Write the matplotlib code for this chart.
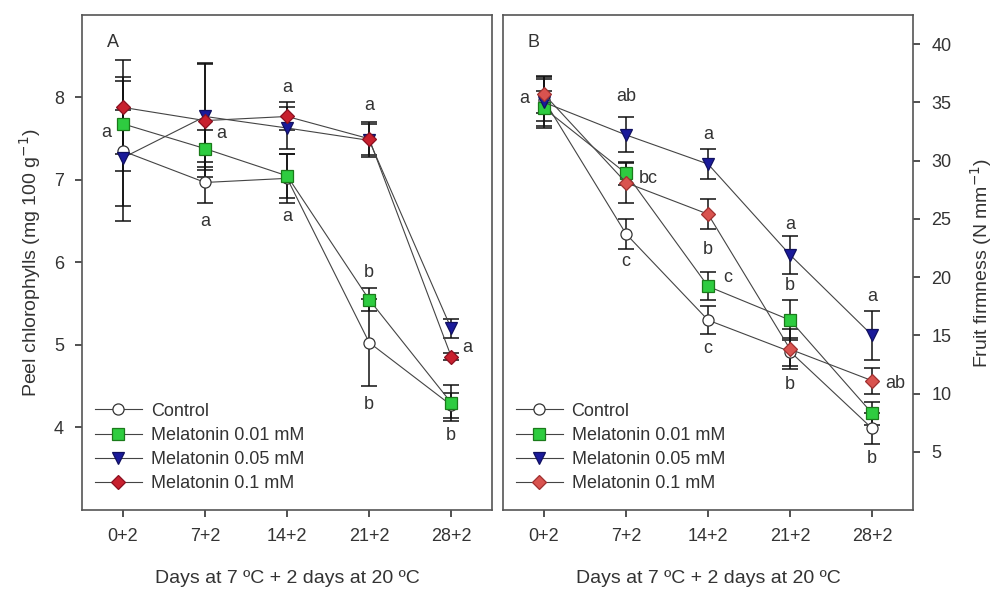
import numpy as np
import matplotlib
matplotlib.use('Agg')
import matplotlib.pyplot as plt

plt.rcParams['font.family'] = ['Liberation Sans', 'DejaVu Sans']

# x categories
days = ['0+2', '7+2', '14+2', '21+2', '28+2']
series = ['Control', 'Melatonin 0.01 mM', 'Melatonin 0.05 mM', 'Melatonin 0.1 mM']

# A - peel chlorophylls (mg 100 g-1)
chl_control = [7.35, 6.97, 7.02, 5.03, 4.27]
chl_control_se = [0.85, 0.25, 0.30, 0.53, 0.15]
chl_m001 = [7.68, 7.38, 7.05, 5.55, 4.30]
chl_m001_se = [0.57, 0.22, 0.27, 0.14, 0.22]
chl_m005 = [7.27, 7.77, 7.63, 7.48, 5.20]
chl_m005_se = [0.58, 0.65, 0.25, 0.20, 0.12]
chl_m01 = [7.88, 7.72, 7.77, 7.50, 4.86]
chl_m01_se = [0.57, 0.68, 0.17, 0.20, 0.04]

# B - fruit firmness (N mm-1)
firm_control = [35.2, 23.7, 16.3, 13.6, 7.0]
firm_control_se = [1.8, 1.3, 1.2, 1.2, 1.3]
firm_m001 = [34.5, 28.9, 19.2, 16.3, 8.3]
firm_m001_se = [1.5, 1.0, 1.2, 1.7, 1.0]
firm_m005 = [35.0, 32.2, 29.7, 21.9, 15.0]
firm_m005_se = [2.2, 1.5, 1.3, 1.6, 2.1]
firm_m01 = [35.7, 28.1, 25.4, 13.8, 11.1]
firm_m01_se = [1.6, 1.7, 1.3, 1.7, 1.1]

# significance letters: (x index, y value, text)
letters_a = [(-0.21, 7.58, 'a'), (1.2, 7.56, 'a'), (1.0, 6.50, 'a'), (2.0, 8.12, 'a'),
             (2.0, 6.56, 'a'), (3.0, 7.90, 'a'), (3.0, 5.88, 'b'), (3.0, 4.28, 'b'),
             (4.2, 4.97, 'a'), (4.0, 3.90, 'b')]
letters_b = [(-0.24, 35.3, 'a'), (1.0, 35.5, 'ab'), (1.27, 28.5, 'bc'), (1.0, 21.3, 'c'),
             (2.0, 32.2, 'a'), (2.0, 22.4, 'b'), (2.24, 20.0, 'c'), (2.0, 13.9, 'c'),
             (3.0, 24.5, 'a'), (3.0, 19.3, 'b'), (3.0, 10.8, 'b'),
             (4.0, 18.3, 'a'), (4.28, 10.9, 'ab'), (4.0, 4.4, 'b')]

styles = [dict(marker='o', mfc='white', mec='#333333'),
          dict(marker='s', mfc='#2ecc40', mec='#1a7a1a'),
          dict(marker='v', mfc='#1a1a9a', mec='#101060'),
          dict(marker='D', mfc='#c8202e', mec='#8a1020')]
styles_b = [dict(marker='o', mfc='white', mec='#333333'),
            dict(marker='s', mfc='#2ecc40', mec='#1a7a1a'),
            dict(marker='v', mfc='#1a1a9a', mec='#101060'),
            dict(marker='D', mfc='#d9534f', mec='#a03030')]

txt = '#333333'
fs = 13

fig = plt.figure(figsize=(9.98, 5.9), dpi=100)
axA = fig.add_axes([0.0822, 0.1356, 0.411, 0.839])
axB = fig.add_axes([0.504, 0.1356, 0.411, 0.839])

x = np.arange(len(days))

def draw(ax, data, errs, stys):
    handles = []
    for name, y, e, st in zip(series, data, errs, stys):
        ms = 8 if st['marker'] != 'D' else 7
        ax.errorbar(x, y, yerr=e, fmt='none', ecolor='#111111', elinewidth=1.1,
                    capsize=6, capthick=1.1, zorder=2)
        h, = ax.plot(x, y, color='#444444', lw=0.8, marker=st['marker'], ms=ms,
                     mfc=st['mfc'], mec=st['mec'], mew=0.9, label=name, zorder=3)
        handles.append(h)
    ax.set_xlim(-0.5, 4.5)
    ax.set_xticks(x)
    ax.set_xticklabels(days)
    for sp in ax.spines.values():
        sp.set_color('#555555')
        sp.set_linewidth(1.2)
    ax.tick_params(direction='out', length=5, width=1.2, color='#333333',
                   labelsize=fs, labelcolor=txt, pad=8)
    ax.set_xlabel('Days at 7 ºC + 2 days at 20 ºC', fontsize=fs + 1, color=txt, labelpad=18)
    leg = ax.legend(handles=handles, loc='lower left', bbox_to_anchor=(0.0, 0.01),
                    frameon=False, fontsize=fs, handlelength=2.6, handletextpad=0.5,
                    labelspacing=0.4, borderaxespad=0.3)
    for t in leg.get_texts():
        t.set_color(txt)

draw(axA, [chl_control, chl_m001, chl_m005, chl_m01],
     [chl_control_se, chl_m001_se, chl_m005_se, chl_m01_se], styles)
axA.set_ylim(3, 9)
axA.set_yticks([4, 5, 6, 7, 8])
axA.set_ylabel('Peel chlorophylls (mg 100 g$^{-1}$)', fontsize=fs + 1, color=txt, labelpad=8)
axA.text(0.06, 0.935, 'A', transform=axA.transAxes, fontsize=fs, color=txt)
for xi, yi, s in letters_a:
    axA.text(xi, yi, s, ha='center', va='center', fontsize=fs, color=txt)

draw(axB, [firm_control, firm_m001, firm_m005, firm_m01],
     [firm_control_se, firm_m001_se, firm_m005_se, firm_m01_se], styles_b)
axB.set_ylim(0, 42.5)
axB.set_yticks([5, 10, 15, 20, 25, 30, 35, 40])
axB.yaxis.tick_right()
axB.yaxis.set_label_position('right')
axB.set_ylabel('Fruit firmness (N mm$^{-1}$)', fontsize=fs + 1, color=txt, labelpad=12)
axB.text(0.06, 0.935, 'B', transform=axB.transAxes, fontsize=fs, color=txt)
for xi, yi, s in letters_b:
    axB.text(xi, yi, s, ha='center', va='center', fontsize=fs, color=txt)

fig.savefig('out.png', dpi=100)
